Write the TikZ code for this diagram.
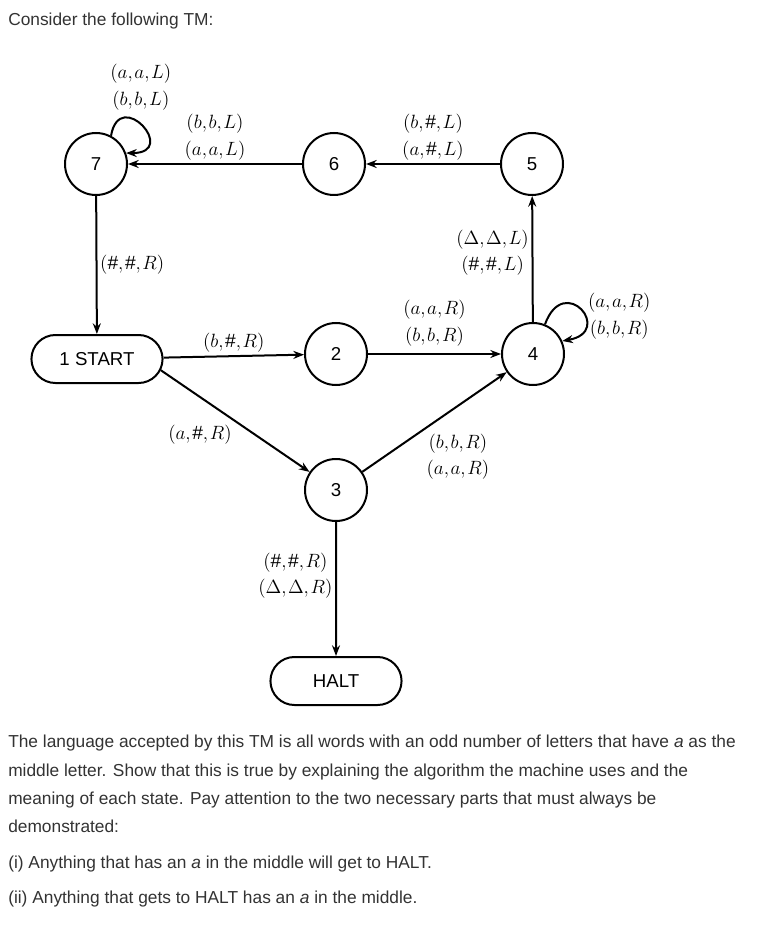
\documentclass[tikz,border=0pt]{standalone}
\usepackage{amsmath}
\usepackage{fontspec}
\setmainfont{Liberation Sans}
\usepackage{xcolor}
\usetikzlibrary{arrows.meta, shapes.misc}
\definecolor{txtgray}{HTML}{333333}
% transition triple, spaced like the printed one
\newcommand{\tr}[3]{$(#1{,}\mkern1.5mu#2{,}\mkern1.5mu#3)$}

\begin{document}
\begin{tikzpicture}[x=0.75pt, y=-0.75pt,
    state/.style={draw, circle, line width=1.5pt, minimum size=46.5pt, inner sep=0pt, font=\fontsize{14}{16}\selectfont},
    term/.style={draw, rounded rectangle, line width=1.5pt, minimum width=105pt, minimum height=36pt, font=\fontsize{14}{16}\selectfont},
    arr/.style={-{Stealth[length=8pt,width=6pt]}, line width=1.5pt},
    lbl/.style={font=\Large, align=center, inner sep=2pt},
    para/.style={anchor=base west, inner sep=0pt, text=txtgray, font=\fontsize{13}{16}\selectfont}]
    \fill[white] (0,0) rectangle (763,930);
    \useasboundingbox (0,0) rectangle (763,930);

    % Question text
    \node[para] (q) at (8,26) {Consider the following TM:};

    % States of the machine
    \node[state] (n7) at (96,164) {7};
    \node[state] (n6) at (334,164) {6};
    \node[state] (n5) at (532,164) {5};
    \node[term] (start) at (97,359) {1 START};
    \node[state] (n2) at (336,354) {2};
    \node[state] (n4) at (533,354) {4};
    \node[state] (n3) at (336,490) {3};
    \node[term] (halt) at (336,681) {HALT};

    % Top row, going left
    \draw[arr] (n6) -- node[lbl, above] {\tr{b}{b}{L}\\[2pt]\tr{a}{a}{L}} (n7);
    \draw[arr] (n5) -- node[lbl, above] {\tr{b}{\#}{L}\\[2pt]\tr{a}{\#}{L}} (n6);
    \draw[arr] (n7.62) .. controls +(80:38pt) and +(0:40pt) .. node[lbl, above, pos=0.4, xshift=4pt, yshift=5pt] {\tr{a}{a}{L}\\[2pt]\tr{b}{b}{L}} (n7.20);

    % Back to start
    \draw[arr] (n7) -- node[lbl, right] {\tr{\#}{\#}{R}} (start);

    % Middle row
    \draw[arr] (start) -- node[lbl, above] {\tr{b}{\#}{R}} (n2);
    \draw[arr] (n2) -- node[lbl, above, yshift=3pt] {\tr{a}{a}{R}\\[2pt]\tr{b}{b}{R}} (n4);
    \draw[arr] (n4) -- node[lbl, left, pos=0.55] {\tr{\Delta}{\Delta}{L}\\[2pt]\tr{\#}{\#}{L}} (n5);
    \draw[arr] (n4.68) .. controls +(70:42pt) and +(10:40pt) .. node[lbl, right, pos=0.6] {\tr{a}{a}{R}\\[2pt]\tr{b}{b}{R}} (n4.24);

    % Bottom part
    \draw[arr] (start.-10) -- node[lbl, below left] {\tr{a}{\#}{R}} (n3);
    \draw[arr] (n3) -- node[lbl, below right, pos=0.42] {\tr{b}{b}{R}\\[2pt]\tr{a}{a}{R}} (n4);
    \draw[arr] (n3) -- node[lbl, left, pos=0.4] {\tr{\#}{\#}{R}\\[2pt]\tr{\Delta}{\Delta}{R}} (halt);

    % Text below the machine
    \node[para] (p1) at (8,747) {The language accepted by this TM is all words with an odd number of letters that have \textit{a} as the};
    \node[para] (p2) at (8,776) {middle letter. Show that this is true by explaining the algorithm the machine uses and the};
    \node[para] (p3) at (8,804) {meaning of each state. Pay attention to the two necessary parts that must always be};
    \node[para] (p4) at (8,832) {demonstrated:};
    \node[para] (p5) at (8,868) {(i) Anything that has an \textit{a} in the middle will get to HALT.};
    \node[para] (p6) at (8,903) {(ii) Anything that gets to HALT has an \textit{a} in the middle.};
\end{tikzpicture}
\end{document}
